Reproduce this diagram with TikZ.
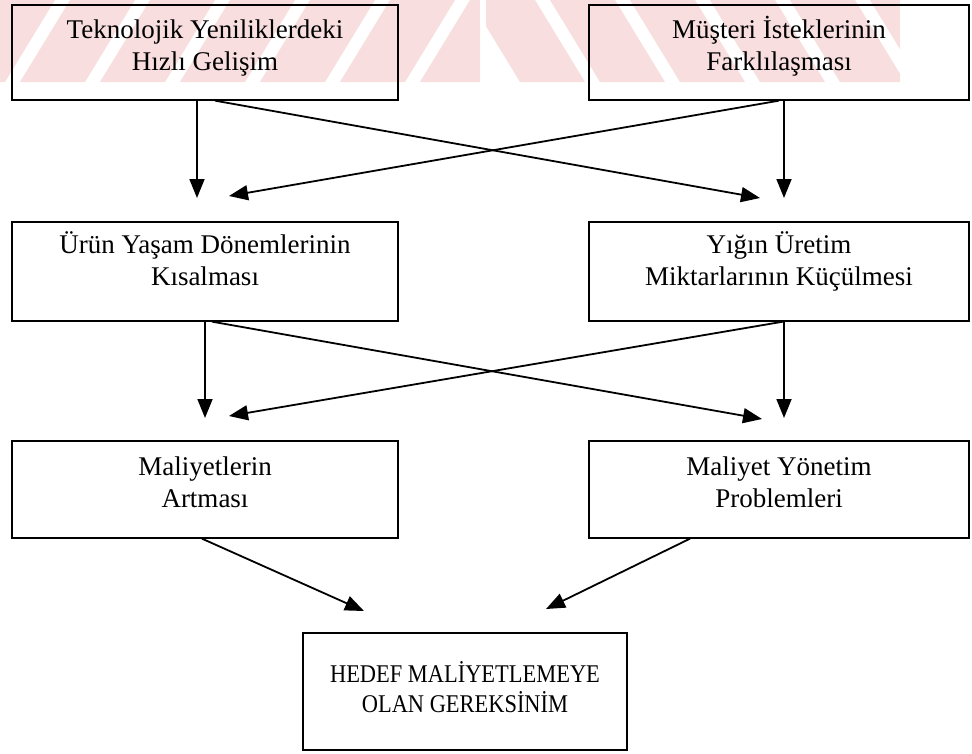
\documentclass[tikz,border=0pt]{standalone}
\usepackage{fontspec}
\setmainfont{Liberation Serif}
\newfontfamily\narrowserif[FakeStretch=0.88]{Liberation Serif}
\usetikzlibrary{arrows.meta}
\definecolor{wmpink}{RGB}{248,222,222}
\begin{document}
\begin{tikzpicture}[x=1pt,y=-1pt,
  box/.style={draw=black, line width=1.3pt, rectangle, inner sep=0pt},
  lbl/.style={align=center, font=\fontsize{27}{32}\selectfont, inner sep=0pt, anchor=base},
  biglbl/.style={align=center, font=\narrowserif\fontsize{25.5}{30}\selectfont, inner sep=0pt, anchor=base},
  flow/.style={line width=1.8pt, -{Triangle[length=19pt,width=15pt]}}]
\useasboundingbox (0,0) rectangle (972,753);

% faint striped watermark along the top edge
\begin{scope}
  \clip (0,0) rectangle (480,82);
  \foreach \i in {0,...,6}
    \fill[wmpink] ({-60+80*\i},82) -- ({5+80*\i},82) -- ({55+80*\i},0) -- ({-10+80*\i},0) -- cycle;
\end{scope}
\begin{scope}
  \clip (486,0) rectangle (900,82);
  \foreach \i in {0,...,5}
    \fill[wmpink] ({470+80*\i},0) -- ({535+80*\i},0) -- ({585+80*\i},82) -- ({520+80*\i},82) -- cycle;
\end{scope}

% boxes
\node[box, minimum width=386, minimum height=95] (b1) at (205,52.5) {};
\node[box, minimum width=380, minimum height=95] (b2) at (779,52.5) {};
\node[box, minimum width=386, minimum height=99] (b3) at (205,271.5) {};
\node[box, minimum width=380, minimum height=99] (b4) at (779,271.5) {};
\node[box, minimum width=386, minimum height=97] (b5) at (205,489.5) {};
\node[box, minimum width=380, minimum height=97] (b6) at (779,489.5) {};
\node[box, minimum width=324, minimum height=117] (b7) at (465,691.5) {};

% box texts (anchored at the baseline of the last line)
\node[lbl] (l1) at ([yshift=-66pt]b1.north) {Teknolojik Yeniliklerdeki\\Hızlı Gelişim};
\node[lbl] (l2) at ([yshift=-66pt]b2.north) {Müşteri İsteklerinin\\Farklılaşması};
\node[lbl] (l3) at ([yshift=-64pt]b3.north) {Ürün Yaşam Dönemlerinin\\Kısalması};
\node[lbl] (l4) at ([yshift=-64pt]b4.north) {Yığın Üretim\\Miktarlarının Küçülmesi};
\node[lbl] (l5) at ([yshift=-67pt]b5.north) {Maliyetlerin\\Artması};
\node[lbl] (l6) at ([yshift=-67pt]b6.north) {Maliyet Yönetim\\Problemleri};
\node[biglbl] (l7) at ([yshift=-80pt]b7.north) {HEDEF MALİYETLEMEYE\\OLAN GEREKSİNİM};

% arrow tips
\coordinate (t1) at (197,198);
\coordinate (t2) at (760,198);
\coordinate (t3) at (229,196);
\coordinate (t4) at (784,198);
\coordinate (t5) at (205,418);
\coordinate (t6) at (762,419);
\coordinate (t7) at (229,416);
\coordinate (t8) at (784,418);
\coordinate (t9) at (364,611);
\coordinate (t10) at (546,609);

% connectors
\draw[flow] ([xshift=-8pt]b1.south) -- (t1);
\draw[flow] ([xshift=10pt]b1.south) -- (t2);
\draw[flow] (b2.south) -- (t3);
\draw[flow] ([xshift=5pt]b2.south) -- (t4);
\draw[flow] (b3.south) -- (t5);
\draw[flow] ([xshift=7pt]b3.south) -- (t6);
\draw[flow] ([xshift=4pt]b4.south) -- (t7);
\draw[flow] ([xshift=5pt]b4.south) -- (t8);
\draw[flow] ([xshift=-3pt]b5.south) -- (t9);
\draw[flow] ([xshift=-89pt]b6.south) -- (t10);
\end{tikzpicture}
\end{document}
